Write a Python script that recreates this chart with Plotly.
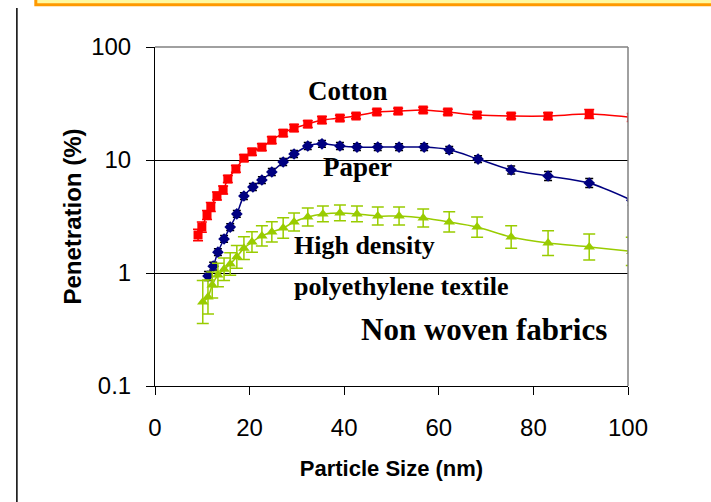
import plotly.graph_objects as go

# Particle size (nm) and penetration (%) for each filter medium
cotton_x = [9.1, 9.9, 11.0, 11.8, 13.1, 14.4, 15.4, 17.1, 18.8, 20.5, 22.6, 24.7, 27.1, 29.4,
            32.3, 35.3, 39.1, 42.5, 46.9, 51.4, 56.7, 61.9, 68.1, 75.3, 83.1, 91.8, 100.8]
cotton_y = [2.17, 2.55, 3.26, 3.84, 4.80, 5.43, 6.79, 8.33, 10.4, 11.8, 13.0, 15.0, 17.3, 19.2,
            20.8, 22.6, 23.5, 24.5, 26.6, 27.1, 27.7, 26.6, 25.0, 24.5, 24.5, 25.5, 23.8]
cotton_err = [0.05, 0.045, 0.04, 0.04, 0.035, 0.035, 0.03, 0.03, 0.03, 0.03, 0.03, 0.03, 0.03, 0.03,
              0.03, 0.03, 0.025, 0.025, 0.025, 0.025, 0.025, 0.025, 0.025, 0.025, 0.03, 0.04, 0.035]

paper_x = [11.2, 12.3, 13.3, 14.6, 15.9, 17.3, 18.8, 20.7, 22.6, 24.7, 27.1, 29.4, 32.3,
           35.3, 39.1, 42.7, 47.1, 51.6, 56.9, 62.2, 68.3, 75.3, 83.1, 91.8, 100.8]
paper_y = [0.94, 1.15, 1.53, 2.00, 2.55, 3.33, 4.80, 5.77, 6.65, 7.83, 9.60, 11.3, 13.3,
           13.9, 13.3, 13.0, 13.0, 13.0, 13.0, 12.3, 10.2, 8.16, 7.22, 6.26, 4.4]
paper_err = [0.04, 0.035, 0.03, 0.03, 0.03, 0.03, 0.03, 0.03, 0.03, 0.03, 0.03, 0.03, 0.03,
             0.03, 0.03, 0.03, 0.03, 0.03, 0.03, 0.03, 0.03, 0.035, 0.04, 0.04, 0.045]

hdpe_x = [10.1, 11.2, 12.1, 13.3, 14.6, 15.9, 17.3, 18.8, 20.5, 22.6, 24.7, 27.1, 29.4,
          32.3, 35.5, 39.1, 42.7, 47.1, 51.6, 56.7, 62.2, 68.1, 75.3, 83.1, 91.8, 100.8]
hdpe_y = [0.554, 0.613, 0.783, 0.96, 1.08, 1.20, 1.39, 1.66, 1.88, 2.13, 2.31, 2.50, 2.83,
          3.13, 3.33, 3.40, 3.33, 3.19, 3.19, 3.07, 2.83, 2.55, 2.08, 1.84, 1.70, 1.55]
hdpe_err = [0.19, 0.15, 0.115, 0.105, 0.10, 0.10, 0.10, 0.10, 0.09, 0.09, 0.09, 0.09, 0.08,
            0.08, 0.07, 0.07, 0.07, 0.08, 0.08, 0.08, 0.09, 0.09, 0.10, 0.11, 0.115, 0.125]

x_ticks = [0, 20, 40, 60, 80, 100]
y_ticks = [0.1, 1, 10, 100]
y_tick_text = ["0.1", "1", "10", "100"]


def log_bars(values, dex):
    """Error bars that are symmetric on a log axis (half-width given in decades)."""
    plus = [v * (10 ** d - 1) for v, d in zip(values, dex)]
    minus = [v * (1 - 10 ** -d) for v, d in zip(values, dex)]
    return plus, minus


def series(xs, ys, dex, color, bar_color, symbol, size, cap):
    plus, minus = log_bars(ys, dex)
    return go.Scatter(
        x=xs, y=ys, mode="lines+markers",
        line=dict(color=color, width=1.5, shape="spline", smoothing=0.8),
        marker=dict(color=color, symbol=symbol, size=size, line=dict(width=0)),
        error_y=dict(type="data", array=plus, arrayminus=minus, visible=True,
                     color=bar_color, thickness=1.5, width=cap),
        showlegend=False, cliponaxis=True,
    )


fig = go.Figure()
fig.add_trace(series(cotton_x, cotton_y, cotton_err, "#FF0000", "#FF0000", "square", 9, 5))
fig.add_trace(series(paper_x, paper_y, paper_err, "#000080", "#000000", "diamond", 9, 4))
fig.add_trace(series(hdpe_x, hdpe_y, hdpe_err, "#99CC00", "#99CC00", "triangle-up", 10, 6))

label_font = dict(family="Liberation Serif, Times New Roman, serif", size=26, color="#000000")
labels = [
    ("<b>Cotton</b>", 40.8, 1.61, "center", 27),
    ("<b>Paper</b>", 42.9, 0.94, "center", 27),
    ("<b>High density</b>", 29.0, 0.24, "left", 26),
    ("<b>polyethylene textile</b>", 29.0, -0.115, "left", 26),
    ("<b>Non woven fabrics</b>", 69.6, -0.496, "center", 31),
]
for text, x, y, anchor, size in labels:
    fig.add_annotation(text=text, x=x, y=y, xref="x", yref="y", xanchor=anchor,
                       yanchor="middle", showarrow=False,
                       font=dict(label_font, size=size))

# frame: grey top/right edges, slide decorations outside the plot
fig.add_shape(type="line", xref="paper", yref="paper", x0=0, x1=1, y0=1, y1=1,
              line=dict(color="#808080", width=1.5), layer="above")
fig.add_shape(type="line", xref="paper", yref="paper", x0=1, x1=1, y0=0, y1=1,
              line=dict(color="#808080", width=1.5), layer="above")
fig.add_shape(type="rect", xref="paper", yref="paper", x0=-0.252, x1=1.2, y0=1.125, y1=1.2,
              fillcolor="#FFF9A0", line=dict(color="#FF9900", width=3), layer="above")
fig.add_shape(type="line", xref="paper", yref="paper", x0=-0.292, x1=-0.292, y0=-0.35, y1=1.115,
              line=dict(color="#000000", width=1.5), layer="above")

axis_font = dict(family="Liberation Sans, Arial, sans-serif", size=24, color="#000000")
fig.update_layout(
    width=711, height=502,
    margin=dict(l=155, r=83, t=47, b=116),
    paper_bgcolor="#FFFFFF", plot_bgcolor="#FFFFFF",
    font=axis_font,
    xaxis=dict(
        range=[0, 100], tickvals=x_ticks, ticks="outside", ticklen=8, tickwidth=1,
        tickcolor="#000000", showline=True, linecolor="#000000", linewidth=1,
        showgrid=False, zeroline=False, tickfont=axis_font, ticklabelstandoff=12,
        title=dict(text="<b>Particle Size (nm)</b>", font=dict(axis_font, size=22), standoff=20),
    ),
    yaxis=dict(
        type="log", range=[-1, 2], tickvals=y_ticks, ticktext=y_tick_text,
        ticks="outside", ticklen=8, tickwidth=1, tickcolor="#000000",
        showline=True, linecolor="#000000", linewidth=1,
        showgrid=True, gridcolor="#000000", gridwidth=1, zeroline=False,
        tickfont=axis_font, ticklabelstandoff=10,
        title=dict(text="<b>Penetration (%)</b>", font=dict(axis_font, size=24), standoff=2),
    ),
)

fig.write_html("out.html")
